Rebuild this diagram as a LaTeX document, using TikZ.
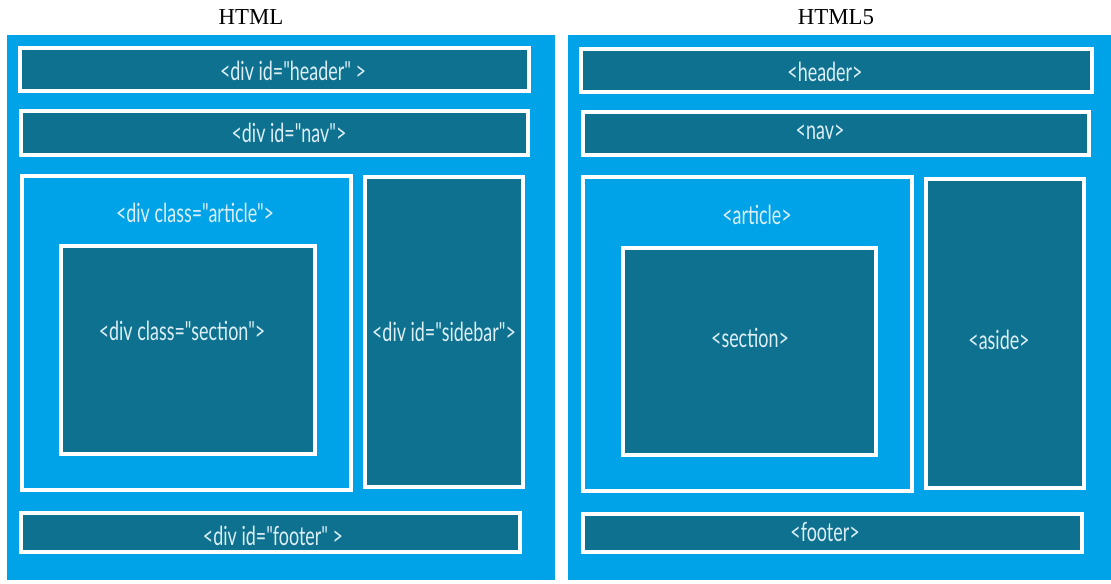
\documentclass[tikz,border=0pt]{standalone}
\usepackage{fontspec}
\setmainfont{Liberation Serif}
\newfontfamily\tagfont[FakeStretch=0.68]{Lato}
\usetikzlibrary{positioning,fit}
\definecolor{panelblue}{HTML}{00A3E8}
\definecolor{boxteal}{HTML}{0F7190}
\definecolor{tagwhite}{HTML}{DCEFF6}

\begin{document}
\begin{tikzpicture}[x=0.02cm, y=-0.02cm,
  panel/.style={fill=panelblue, inner sep=0pt},
  tagbox/.style={draw=white, line width=2pt, fill=boxteal, inner sep=0pt},
  wrapbox/.style={draw=white, line width=2pt, fill=panelblue, inner sep=0pt},
  tag/.style={font=\tagfont\fontsize{15}{18}\selectfont, text=tagwhite, inner sep=0pt},
  title/.style={font=\fontsize{13}{15}\selectfont, inner sep=0pt}
]
  \useasboundingbox (0,0) rectangle (1111,583);

  % old markup, div based
  \node[title] (oldtitle) at (251,17) {HTML};
  \node[panel, fit={(7,35) (555,580)}] (oldpanel) {};
  \node[tagbox, fit={(20,48) (529,91)}] (oldhead) {};
  \node[tagbox, fit={(21,111) (528,155)}] (oldnav) {};
  \node[wrapbox, fit={(22,176) (351,490)}] (oldart) {};
  \node[tagbox, fit={(61,246) (315,454)}] (oldsec) {};
  \node[tagbox, fit={(365,177) (523,487)}] (oldside) {};
  \node[tagbox, fit={(21,513) (520,552)}] (oldfoot) {};

  \node[tag] (oldheadtxt) at (293,71) {<div id="header" >};
  \node[tag] (oldnavtxt) at (289,133) {<div id="nav">};
  \node[tag] (oldarttxt) at (195,213) {<div class="article">};
  \node[tag] (oldsectxt) at (182,331) {<div class="section">};
  \node[tag] (oldsidetxt) at (444,332) {<div id="sidebar">};
  \node[tag] (oldfoottxt) at (273,536) {<div id="footer" >};

  % semantic elements
  \node[title] (newtitle) at (836,17) {HTML5};
  \node[panel, fit={(568,35) (1111,580)}] (newpanel) {};
  \node[tagbox, fit={(581,49) (1092,92)}] (newhead) {};
  \node[tagbox, fit={(583,112) (1089,155)}] (newnav) {};
  \node[wrapbox, fit={(583,177) (912,491)}] (newart) {};
  \node[tagbox, fit={(623,248) (876,455)}] (newsec) {};
  \node[tagbox, fit={(926,179) (1084,488)}] (newaside) {};
  \node[tagbox, fit={(583,514) (1082,552)}] (newfoot) {};

  \node[tag] (newheadtxt) at (825,72) {<header>};
  \node[tag] (newnavtxt) at (820,132) {<nav>};
  \node[tag] (newarttxt) at (757,215) {<article>};
  \node[tag] (newsectxt) at (750,338) {<section>};
  \node[tag] (newasidetxt) at (999,340) {<aside>};
  \node[tag] (newfoottxt) at (825,532) {<footer>};
\end{tikzpicture}
\end{document}
